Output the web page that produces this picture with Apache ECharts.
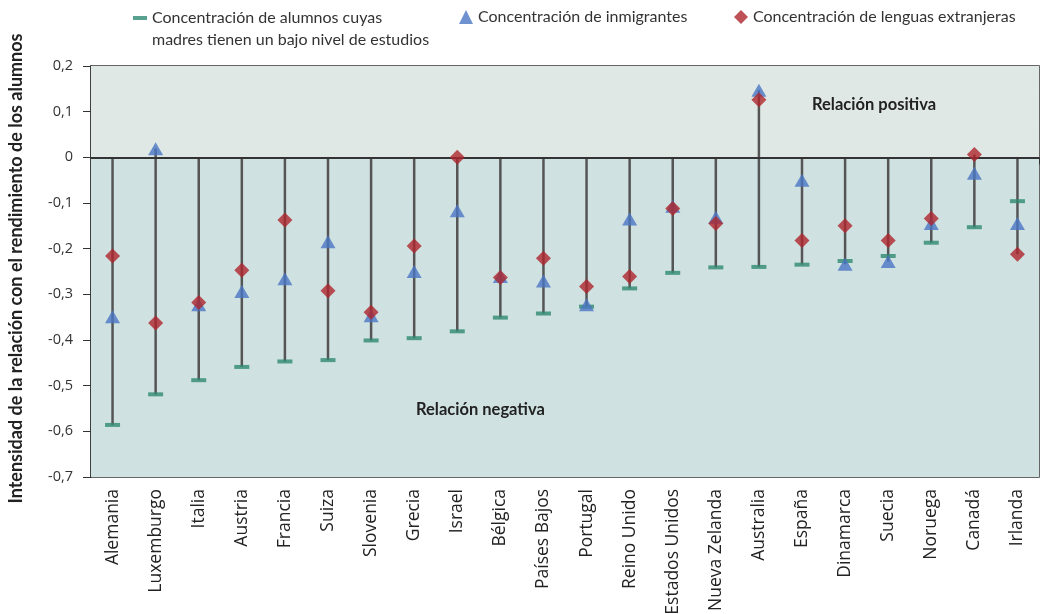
<!DOCTYPE html>
<html><head><meta charset="utf-8">
<script src="https://cdn.jsdelivr.net/npm/echarts@6/dist/echarts.min.js"></script>
<style>html,body{margin:0;padding:0;background:#fff}#c{width:1040px;height:614px}</style>
</head><body><div id="c"></div>
<script>
const categories = ['Alemania','Luxemburgo','Italia','Austria','Francia','Suiza','Slovenia','Grecia','Israel','Bélgica','Países Bajos','Portugal','Reino Unido','Estados Unidos','Nueva Zelanda','Australia','España','Dinamarca','Suecia','Noruega','Canadá','Irlanda'];
const madres = [-0.586,-0.519,-0.488,-0.459,-0.447,-0.444,-0.401,-0.396,-0.381,-0.351,-0.342,-0.327,-0.287,-0.253,-0.241,-0.240,-0.235,-0.227,-0.216,-0.187,-0.153,-0.096];
const inmigrantes = [-0.349,0.019,-0.323,-0.294,-0.266,-0.185,-0.347,-0.250,-0.117,-0.261,-0.271,-0.323,-0.135,-0.107,-0.131,0.147,-0.050,-0.234,-0.228,-0.145,-0.035,-0.145];
const lenguas = [-0.216,-0.363,-0.318,-0.247,-0.137,-0.292,-0.339,-0.194,0.000,-0.263,-0.221,-0.283,-0.261,-0.112,-0.145,0.126,-0.182,-0.150,-0.182,-0.134,0.006,-0.212];
const yTicks = [0.2,0.1,0,-0.1,-0.2,-0.3,-0.4,-0.5,-0.6,-0.7];
const seriesNames = ['Concentración de alumnos cuyas\nmadres tienen un bajo nivel de estudios','Concentración de inmigrantes','Concentración de lenguas extranjeras'];

const stems = categories.map((c,i)=>[i, Math.max(0, madres[i], inmigrantes[i], lenguas[i]), Math.min(madres[i], inmigrantes[i], lenguas[i])]);

const chart = echarts.init(document.getElementById('c'));
const FONT = 'Lato';
const legendText = {fontFamily:FONT,fontSize:16,color:'#333'};
chart.setOption({
  animation:false,
  backgroundColor:'#fff',
  legend:[
    {data:[seriesNames[0]], left:133, top:7, padding:0, itemWidth:14, itemHeight:26,
     icon:'path://M0,0H14V4H0Z M0,26L0.01,26',
     textStyle:Object.assign({}, legendText, {lineHeight:22})},
    {data:[seriesNames[1]], left:459, top:9, padding:0, itemWidth:14, itemHeight:14, icon:'triangle', textStyle:legendText},
    {data:[seriesNames[2]], left:734, top:9, padding:0, itemWidth:14, itemHeight:14, icon:'diamond', textStyle:legendText}
  ],
  grid:{left:91,right:1,top:66,bottom:137,show:true,borderColor:'#333',borderWidth:1.5,backgroundColor:'transparent',containLabel:false,outerBoundsMode:'none'},
  xAxis:{
    type:'category', data:categories, boundaryGap:true,
    axisLine:{show:true,lineStyle:{color:'#333',width:1.5}},
    axisTick:{show:true,inside:false,length:7,interval:0,lineStyle:{color:'#333'}},
    axisLabel:{rotate:90,interval:0,fontFamily:'Open Sans',fontSize:17.5,color:'#222',margin:12},
    splitLine:{show:true,interval:0,lineStyle:{color:'#666',type:[6,5],width:1}}
  },
  yAxis:{
    type:'value', min:-0.7, max:0.2, interval:0.1,
    name:'Intensidad de la relación con el rendimiento de los alumnos',
    nameLocation:'middle', nameGap:66, nameRotate:90,
    nameTextStyle:{fontFamily:FONT,fontWeight:'bold',fontSize:18,color:'#222',padding:[0,0,0,6]},
    axisLine:{show:true,lineStyle:{color:'#333',width:1.5}},
    axisTick:{show:true,inside:false,length:8,lineStyle:{color:'#333'}},
    axisLabel:{fontFamily:'Open Sans',fontSize:14.5,color:'#333',margin:18,
      formatter:v=>{const r=Math.round(v*10)/10; return r===0?'0':r.toFixed(1).replace('.',',');}},
    splitLine:{show:true,lineStyle:{color:'#666',type:[6,5],width:1}}
  },
  series:[
    {type:'custom', name:'stems', z:2, silent:true,
     renderItem:(params,api)=>{
       const p1=api.coord([api.value(0),api.value(1)]);
       const p2=api.coord([api.value(0),api.value(2)]);
       return {type:'line',shape:{x1:p1[0],y1:p1[1],x2:p2[0],y2:p2[1]},style:{stroke:'#555',lineWidth:2.5}};
     },
     data:stems,
     markArea:{silent:true,data:[
       [{yAxis:0.2,itemStyle:{color:'#e0e8e5'}},{yAxis:0}],
       [{yAxis:0,itemStyle:{color:'#cfe1e0'}},{yAxis:-0.7}]
     ]},
     markLine:{silent:true,symbol:'none',label:{show:false},lineStyle:{color:'#333',type:'solid',width:2},data:[{yAxis:0}]}
    },
    {type:'scatter', name:seriesNames[0], data:madres, symbol:'rect', symbolSize:[15,4], itemStyle:{color:'#2e8a72'}, z:3},
    {type:'scatter', name:seriesNames[1], data:inmigrantes, symbol:'triangle', symbolSize:[15,13], itemStyle:{color:'#4a75c4'}, z:4},
    {type:'scatter', name:seriesNames[2], data:lenguas, symbol:'diamond', symbolSize:[15,15], itemStyle:{color:'#ae262d'}, z:5}
  ],
  graphic:[
    {type:'text', left:812, top:96, z:10, style:{text:'Relación positiva', font:'bold 16.5px Lato', fill:'#222'}},
    {type:'text', left:416, top:401, z:10, style:{text:'Relación negativa', font:'bold 16.5px Lato', fill:'#222'}}
  ]
});
</script></body></html>
